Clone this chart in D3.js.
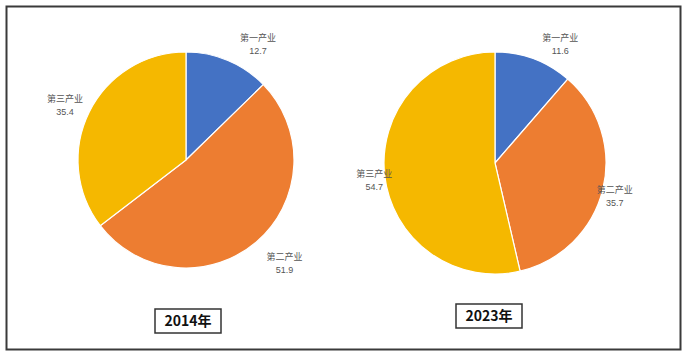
<!DOCTYPE html>
<html><head><meta charset="utf-8">
<script src="https://cdn.jsdelivr.net/npm/d3@7"></script>
<style>html,body{margin:0;padding:0;background:#fff;}svg{display:block;}</style>
</head><body>
<svg id="c" width="692" height="357"></svg>
<script>
const categories = ["第一产业", "第二产业", "第三产业"];
const values2014 = [12.7, 51.9, 35.4];
const values2023 = [11.6, 35.7, 54.7];
const years = ["2014年", "2023年"];
const colors = ["#4472C4", "#ED7D31", "#F5B800"];

const svg = d3.select("#c");
svg.append("rect").attr("x", 6.5).attr("y", 6.5).attr("width", 674).attr("height", 343)
  .attr("fill", "#fff").attr("stroke", "#3a3a3a").attr("stroke-width", 2);

const color = d3.scaleOrdinal().domain(categories).range(colors);
const pie = d3.pie().sort(null).value(d => d.v);

const charts = [
  {values: values2014, year: years[0], cx: 186, cy: 160, r: 108, lr: 1.24,
   nudge: [[20, 7], [11, 2], [-1, 4]], box: {x: 155, y: 309, w: 66, h: 24}},
  {values: values2023, year: years[1], cx: 495, cy: 163, r: 111, lr: 1.14,
   nudge: [[21, 0], [-3, 3], [5, 3]], box: {x: 456, y: 304, w: 66, h: 24}}
];

charts.forEach(c => {
  const data = categories.map((k, i) => ({k, v: c.values[i], i}));
  const arcs = pie(data);
  const g = svg.append("g").attr("transform", `translate(${c.cx},${c.cy})`);
  const arc = d3.arc().innerRadius(0).outerRadius(c.r);
  g.selectAll("path").data(arcs).join("path")
    .attr("d", arc).attr("fill", d => color(d.data.k))
    .attr("stroke", "#fff").attr("stroke-width", 1.2);
  const la = d3.arc().innerRadius(c.r * c.lr).outerRadius(c.r * c.lr);
  const lg = g.selectAll("g.lbl").data(arcs).join("g").attr("class", "lbl")
    .attr("transform", d => {
      const p = la.centroid(d), n = c.nudge[d.data.i];
      return `translate(${p[0] + n[0]},${p[1] + n[1]})`;
    });
  lg.append("text").attr("text-anchor", "middle").attr("y", -3)
    .attr("font-family", "Noto Sans CJK SC, sans-serif").attr("font-size", 9).attr("fill", "#555")
    .text(d => d.data.k);
  lg.append("text").attr("text-anchor", "middle").attr("y", 10)
    .attr("font-family", "Liberation Sans, Arial, sans-serif").attr("font-size", 9).attr("fill", "#555")
    .text(d => d3.format(".1f")(d.data.v));
  const b = c.box;
  svg.append("rect").attr("x", b.x).attr("y", b.y).attr("width", b.w).attr("height", b.h)
    .attr("fill", "#fff").attr("stroke", "#333").attr("stroke-width", 1.5);
  svg.append("text").attr("x", b.x + b.w / 2).attr("y", b.y + b.h / 2 + 5)
    .attr("text-anchor", "middle").attr("font-family", "Noto Sans CJK SC, sans-serif")
    .attr("font-weight", "bold").attr("font-size", 14).attr("fill", "#111")
    .text(c.year);
});
</script>
</body></html>
